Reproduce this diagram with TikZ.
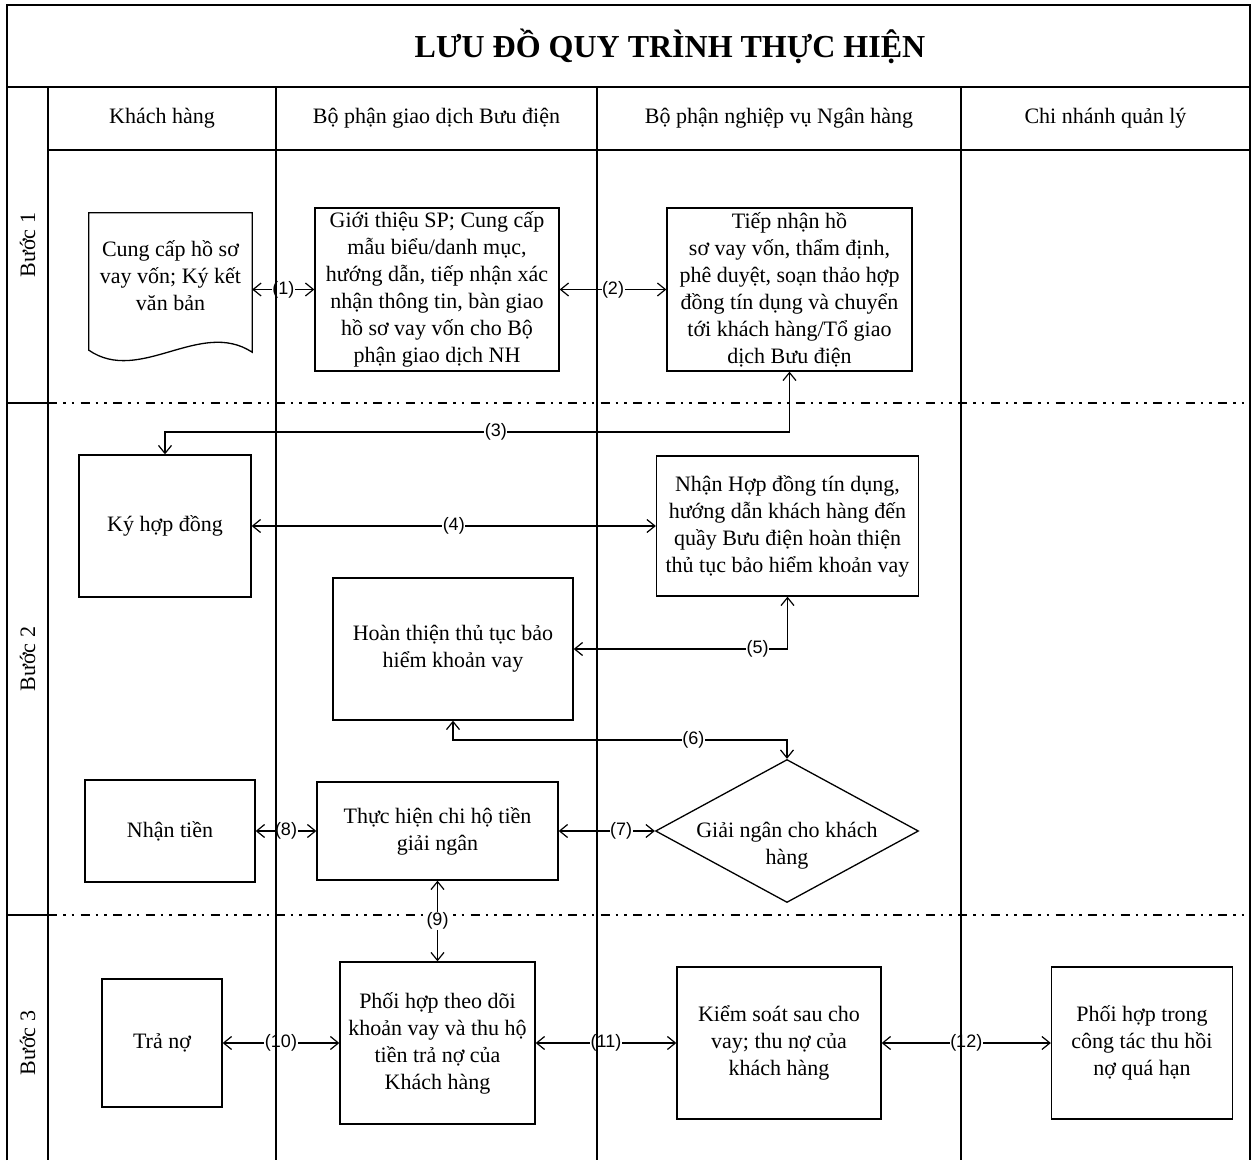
\documentclass[tikz,border=0pt]{standalone}
\usepackage{fontspec}
\setmainfont{Liberation Serif}
\newfontfamily\numfont{Liberation Sans}
\usetikzlibrary{arrows.meta,shapes.geometric,calc}

\begin{document}
\begin{tikzpicture}[x=1pt,y=-1pt,font=\fontsize{22}{27}\selectfont,
  >={Straight Barb[length=8pt,width=13pt]},
  box/.style={draw,line width=1.3pt,align=center,inner sep=2pt},
  conn/.style={<->,line width=1.2pt},
  num/.style={font=\numfont\fontsize{18}{18}\selectfont,fill=white,inner sep=0.5pt},
  laneline/.style={line width=1.8pt},
  stepline/.style={line width=2.6pt,dash pattern=on 9pt off 6pt on 2.5pt off 6pt on 2.5pt off 6.5pt}]
\fill[white] (0,0) rectangle (1254,1160);
% khung, tieu de, hang tieu de
\draw[laneline] (7,1160) -- (7,5) -- (1250,5) -- (1250,1160);
\draw[laneline] (7,87) -- (1250,87);
\draw[laneline] (48,150) -- (1250,150);
\draw[laneline] (7,403) -- (48,403) (7,915) -- (48,915);
\draw[stepline] (48,403) -- (1250,403) (48,915) -- (1250,915);
\node[font=\fontsize{32}{38}\selectfont\bfseries] (title) at (670,46) {LƯU ĐỒ QUY TRÌNH THỰC HIỆN};
\node (khach) at (162,118) {Khách hàng};
\node (buudien) at (436.5,118) {Bộ phận giao dịch Bưu điện};
\node (nganhang) at (779,118) {Bộ phận nghiệp vụ Ngân hàng};
\node (chinhanh) at (1105.5,118) {Chi nhánh quản lý};
\node[rotate=90] (buoc1) at (27.5,245) {Bước 1};
\node[rotate=90] (buoc2) at (27.5,659) {Bước 2};
\node[rotate=90] (buoc3) at (27.5,1043) {Bước 3};

% buoc 1
\node[align=center,inner sep=2pt,minimum width=163pt,minimum height=126pt] (doc) at (170.5,276) {Cung cấp hồ sơ\\vay vốn; Ký kết\\văn bản};
\draw[line width=1.3pt] ($(doc.south west)+(0,11)$) -- (doc.north west) -- (doc.north east) -- ($(doc.south east)+(0,13)$) .. controls +(-52,-34) and +(51,35) .. ($(doc.south west)+(0,11)$) -- cycle;
\node[box,minimum width=244pt,minimum height=163pt] (gioithieu) at (437,289.5) {Giới thiệu SP; Cung cấp\\mẫu biểu/danh mục,\\hướng dẫn, tiếp nhận xác\\nhận thông tin, bàn giao\\hồ sơ vay vốn cho Bộ\\phận giao dịch NH};
\node[box,minimum width=245pt,minimum height=163pt] (tiepnhan) at (789.5,289.5) {Tiếp nhận hồ\\sơ vay vốn, thẩm định,\\phê duyệt, soạn thảo hợp\\đồng tín dụng và chuyển\\tới khách hàng/Tổ giao\\dịch Bưu điện};

% buoc 2
\node[box,minimum width=172pt,minimum height=142pt] (kyhd) at (165,526) {Ký hợp đồng};
\node[box,minimum width=262pt,minimum height=140pt] (nhanhd) at (787.5,526) {Nhận Hợp đồng tín dụng,\\hướng dẫn khách hàng đến\\quầy Bưu điện hoàn thiện\\thủ tục bảo hiểm khoản vay};
\node[box,minimum width=240pt,minimum height=142pt] (hoanthien) at (453,649) {Hoàn thiện thủ tục bảo\\hiểm khoản vay};
\node[draw,diamond,aspect=1.8,line width=1.3pt,minimum width=263pt,minimum height=143pt,inner sep=0pt] (giaingan) at (787,831) {};
\node[align=center] (giaingantxt) at ([yshift=-15pt]giaingan.center) {Giải ngân cho khách\\hàng};
\node[box,minimum width=170pt,minimum height=102pt] (nhantien) at (170,831) {Nhận tiền};
\node[box,minimum width=241pt,minimum height=98pt] (chiho) at (437.5,831) {Thực hiện chi hộ tiền\\giải ngân};

% buoc 3
\node[box,minimum width=120pt,minimum height=128pt] (trano) at (162,1043) {Trả nợ};
\node[box,minimum width=195pt,minimum height=162pt] (phoihop) at (437.5,1043) {Phối hợp theo dõi\\khoản vay và thu hộ\\tiền trả nợ của\\Khách hàng};
\node[box,minimum width=204pt,minimum height=152pt] (kiemsoat) at (779,1043) {Kiểm soát sau cho\\vay; thu nợ của\\khách hàng};
\node[box,minimum width=181pt,minimum height=152pt] (thuhoi) at (1142,1043) {Phối hợp trong\\công tác thu hồi\\nợ quá hạn};

% mui ten
\coordinate (r3) at (0,432);
\coordinate (r6) at (0,740);
\draw[conn] (doc.east |- gioithieu.west) -- node[num]{(1)} (gioithieu.west);
\draw[conn] (gioithieu.east) -- node[num]{(2)} (tiepnhan.west);
\draw[conn] (tiepnhan.south) -- (tiepnhan.south |- r3) -- node[num,pos=0.47]{(3)} (kyhd.north |- r3) -- (kyhd.north);
\draw[conn] (kyhd.east) -- node[num]{(4)} (nhanhd.west);
\draw[conn] (nhanhd.south) |- node[num,pos=0.57]{(5)} (hoanthien.east);
\draw[conn] (hoanthien.south) -- (hoanthien.south |- r6) -- node[num,pos=0.72]{(6)} (giaingan.north |- r6) -- (giaingan.north);
\draw[conn] (chiho.east) -- node[num,pos=0.65]{(7)} (giaingan.west);
\draw[conn] (nhantien.east) -- node[num]{(8)} (chiho.west);
\draw[conn] (chiho.south) -- node[num]{(9)} (phoihop.north);
\draw[conn] (trano.east) -- node[num]{(10)} (phoihop.west);
\draw[conn] (phoihop.east) -- node[num]{(11)} (kiemsoat.west);
\draw[conn] (kiemsoat.east) -- node[num]{(12)} (thuhoi.west);

% duong phan lan
\draw[laneline] (48,87) -- (48,1160) (276,87) -- (276,1160) (597,87) -- (597,1160) (961,87) -- (961,1160);
\end{tikzpicture}
\end{document}
